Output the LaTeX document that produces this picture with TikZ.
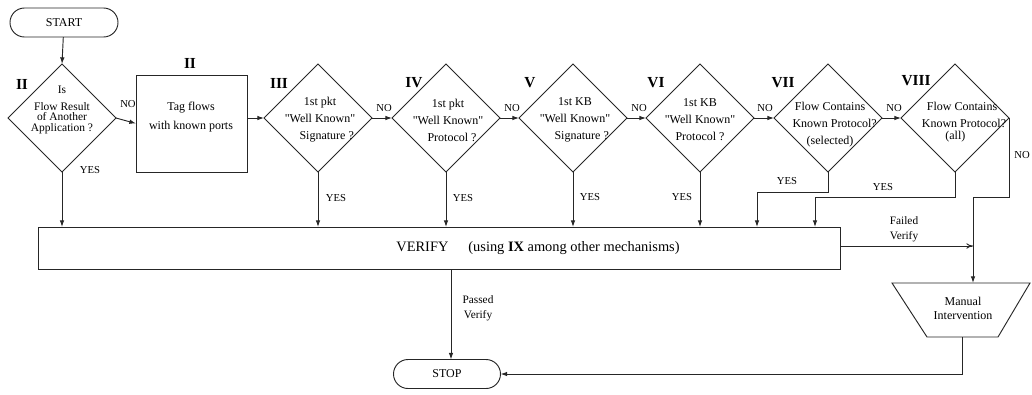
\documentclass[tikz,border=0pt]{standalone}
\usepackage{fontspec}
\setmainfont{Liberation Serif}[Ligatures=TeXOff]
\usetikzlibrary{shapes.geometric,shapes.misc,arrows.meta}
\begin{document}
\begin{tikzpicture}[x=0.75pt,y=-0.75pt,
  ln/.style={line width=0.7pt,draw=black!85},
  arr/.style={ln,-{Latex[length=5pt,width=3.4pt]}},
  oarr/.style={ln,-{To[length=5pt,width=4pt]}},
  dia/.style={diamond,ln,minimum width=81pt,minimum height=81pt,inner sep=0pt,outer sep=0pt},
  term/.style={rounded rectangle,ln,minimum width=81pt,minimum height=21.75pt,inner sep=0pt,outer sep=0pt,font=\fontsize{9}{10}\selectfont},
  boxx/.style={rectangle,ln,inner sep=0pt,outer sep=0pt},
  txt/.style={font=\fontsize{9}{12.75}\selectfont,align=center,inner sep=0pt},
  num/.style={font=\fontsize{11.5}{12}\selectfont\bfseries,inner sep=0pt},
  lbl/.style={font=\fontsize{8}{9.5}\selectfont,inner sep=0pt,align=center}]
\useasboundingbox (0,0) rectangle (1032,394);
% terminals
\node[term] (start) at (64,22.5) {START};
\node[term,minimum width=80.25pt] (stop) at (447,374) {STOP};
% diamonds
\node[dia] (d1) at (62,118) {};
\node[boxx,minimum width=83.25pt,minimum height=72.75pt] (tag) at (191.5,123.5) {};
\node[dia] (d3) at (318,118) {};
\node[dia] (d4) at (446,118) {};
\node[dia] (d5) at (573,118) {};
\node[dia] (d6) at (700,118) {};
\node[dia] (d7) at (828,118) {};
\node[dia] (d8) at (955,118) {};
% numerals
\node[num] (n1) at (22,84) {II};
\node[num] (n2) at (190,63) {II};
\node[num] (n3) at (279,83) {III};
\node[num] (n4) at (414,83) {IV};
\node[num] (n5) at (530,83) {V};
\node[num] (n6) at (656,83) {VI};
\node[num] (n7) at (783,83) {VII};
\node[num] (n8) at (916,81) {VIII};
% texts
\node[txt,font=\fontsize{8.6}{7.9}\selectfont] (t1) at (62,110) {Is\\[4.5pt]Flow Result\\of Another\\Application ?};
\node[txt] (t2) at (191,117.5) {Tag flows\\[1.5pt]with known ports};
\node[txt] (t3) at (320,120) {1st pkt\\"Well Known"\\\hspace*{10pt}Signature ?};
\node[txt] (t4) at (448,120) {1st pkt\\"Well Known"\\\hspace*{6pt}Protocol ?};
\node[txt] (t5) at (575,120) {1st KB\\"Well Known"\\\hspace*{10pt}Signature ?};
\node[txt] (t6) at (700,120) {1st KB\\"Well Known"\\Protocol ?};
\node[txt] (t7) at (830,125) {Flow Contains\\\hspace*{7pt}Known Protocol?\\(selected)};
\node[txt] (t8) at (962,122) {Flow Contains\\\hspace*{3pt}Known Protocol?\\[-4pt]\hspace*{-10pt}(all)};
% verify
\node[boxx,minimum width=601.5pt,minimum height=31.5pt] (verify) at (439,248) {};
\node[txt,font=\fontsize{10.8}{12}\selectfont] (vtext) at (538,248) {VERIFY\hspace{15pt}(using \textbf{IX} among other mechanisms)};
% manual intervention
\coordinate (mtl) at (892,283);
\coordinate (mtr) at (1030,283);
\coordinate (mbr) at (998,337);
\coordinate (mbl) at (927,337);
\draw[ln] (mtl) -- (mtr) -- (mbr) -- (mbl) -- cycle;
\node[txt,font=\fontsize{9}{10.5}\selectfont] (manual) at (963,308) {Manual\\Intervention};
\coordinate (mtop) at (973,283);
\coordinate (mbot) at (962,337);
% connectors
\draw[arr] (start) -- (d1.north);
\draw[arr] (d1.east) -- (tag.west);
\draw[arr] (tag.east |- d3.west) -- (d3.west);
\draw[arr] (d3.east) -- (d4.west);
\draw[arr] (d4.east) -- (d5.west);
\draw[arr] (d5.east) -- (d6.west);
\draw[arr] (d6.east) -- (d7.west);
\draw[arr] (d7.east) -- (d8.west);
\foreach \d in {d1,d3,d4,d5,d6}{\draw[arr] (\d.south) -- (\d.south |- verify.north);}
\coordinate (v7) at (757,227);
\coordinate (v8) at (815,227);
\draw[arr] (d7.south) -- ++(0,20) -| (v7);
\draw[arr] (d8.south) -- ++(0,25) -| (v8);
\draw[arr] (d8.east) -- ++(0,79) -| (mtop);
\coordinate (fv) at (973,246);
\draw[oarr] (verify.east |- fv) -- (fv);
\coordinate (pv) at (451,269);
\draw[arr] (pv) -- (pv |- stop.north);
\draw[arr] (mbot) |- (stop.east);
% labels
\node[lbl] (no1) at (128,104) {NO};
\node[lbl] (no3) at (384,108) {NO};
\node[lbl] (no4) at (512,108) {NO};
\node[lbl] (no5) at (639,108) {NO};
\node[lbl] (no6) at (765,108) {NO};
\node[lbl] (no7) at (894,108) {NO};
\node[lbl] (no8) at (1022,155) {NO};
\node[lbl] (y1) at (90,170) {YES};
\node[lbl] (y3) at (336,198) {YES};
\node[lbl] (y4) at (463,198) {YES};
\node[lbl] (y5) at (590,197) {YES};
\node[lbl] (y6) at (682,197) {YES};
\node[lbl] (y7) at (787,181) {YES};
\node[lbl] (y8) at (883,187) {YES};
\node[lbl,font=\fontsize{8.5}{11}\selectfont] (fl) at (904,229) {Failed\\Verify};
\node[lbl,font=\fontsize{8.5}{11}\selectfont] (pl) at (478,308) {Passed\\Verify};
\end{tikzpicture}
\end{document}
